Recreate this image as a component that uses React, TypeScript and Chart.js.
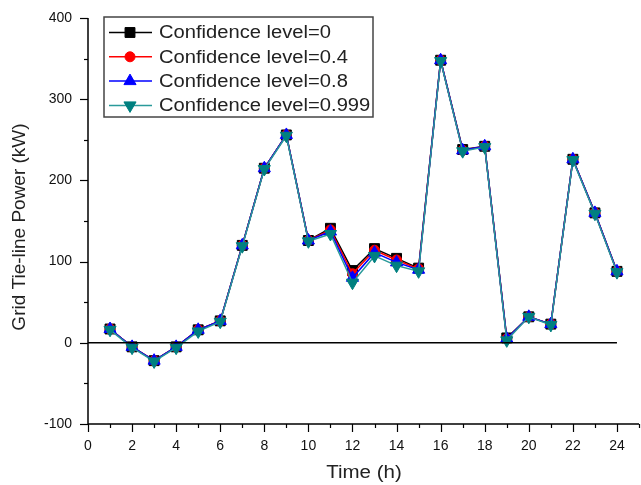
import React, { useEffect, useRef } from "react";
import { Chart, registerables } from "chart.js";

Chart.register(...registerables);

const hours = [1, 2, 3, 4, 5, 6, 7, 8, 9, 10, 11, 12, 13, 14, 15, 16, 17, 18, 19, 20, 21, 22, 23, 24];
const level0 = [17, -5, -22, -5, 16, 27, 120, 215, 256, 126, 141, 89, 116, 104, 92, 348, 238, 242, 6, 32, 23, 226, 160, 88];
const level04 = [17, -5, -22, -5, 16, 27, 120, 215, 256, 126, 139, 85, 114, 102, 91, 348, 237, 242, 5, 32, 23, 226, 160, 88];
const level08 = [17, -5, -22, -5, 16, 27, 120, 215, 256, 126, 137, 80, 111, 99, 90, 348, 237, 242, 5, 32, 23, 226, 160, 88];
const level0999 = [16, -6, -23, -6, 14, 26, 119, 214, 255, 125, 134, 74, 107, 95, 88, 347, 236, 241, 3, 32, 22, 225, 159, 87];
const seriesNames = ["Confidence level=0", "Confidence level=0.4", "Confidence level=0.8", "Confidence level=0.999"];
const xTickLabels = ["0", "2", "4", "6", "8", "10", "12", "14", "16", "18", "20", "22", "24"];
const yTickLabels = ["-100", "0", "100", "200", "300", "400"];
const xTitle = "Time (h)";
const yTitle = "Grid Tie-line Power (kW)";

const FONT = "'Liberation Sans', Arial, sans-serif";

export default function App() {
  const ref = useRef<HTMLCanvasElement>(null);
  useEffect(() => {
    document.body.style.margin = "0";
    const styles = [
      { color: "#000000", line: "#000000", point: "rect", radius: 7, rotation: 0 },
      { color: "#ff0000", line: "#ff0000", point: "circle", radius: 5, rotation: 0 },
      { color: "#0000ff", line: "#0000ff", point: "triangle", radius: 7, rotation: 0 },
      { color: "#008080", line: "#2a9a9a", point: "triangle", radius: 7, rotation: 180 },
    ];
    const seriesData = [level0, level04, level08, level0999];

    function drawMarker(ctx: any, style: string, r: number, rot: number, x: number, y: number) {
      ctx.beginPath();
      if (style === "rect") {
        const s = r * Math.SQRT1_2;
        ctx.rect(x - s, y - s, 2 * s, 2 * s);
      } else if (style === "circle") {
        ctx.arc(x, y, r, 0, Math.PI * 2);
      } else {
        let a = (rot * Math.PI) / 180;
        for (let k = 0; k < 3; k++) {
          const px = x + Math.sin(a) * r;
          const py = y - Math.cos(a) * r;
          if (k === 0) ctx.moveTo(px, py);
          else ctx.lineTo(px, py);
          a += (2 * Math.PI) / 3;
        }
        ctx.closePath();
      }
      ctx.fill();
      ctx.stroke();
    }

    function stretchText(ctx: any, text: string, x: number, y: number, sx: number) {
      ctx.save();
      ctx.translate(x, y);
      ctx.scale(sx, 1);
      ctx.fillText(text, 0, 0);
      ctx.restore();
    }

    const customPlugin = {
      id: "custom",
      afterDraw(chart: any) {
        const ctx = chart.ctx;
        const xs = chart.scales.x;
        const ys = chart.scales.y;
        const area = chart.chartArea;
        ctx.save();
        ctx.strokeStyle = "#000";
        ctx.lineWidth = 1.5;
        // zero line
        ctx.beginPath();
        ctx.moveTo(xs.getPixelForValue(0), ys.getPixelForValue(0));
        ctx.lineTo(xs.getPixelForValue(24), ys.getPixelForValue(0));
        ctx.stroke();
        // axis lines
        ctx.beginPath();
        ctx.moveTo(area.left, area.top);
        ctx.lineTo(area.left, area.bottom);
        ctx.lineTo(area.right, area.bottom);
        ctx.stroke();
        ctx.lineWidth = 1.2;
        // x ticks
        for (let v = 0; v <= 25; v++) {
          const px = Math.round(xs.getPixelForValue(v)) + 0.5;
          const len = v % 2 === 0 ? 8 : 4;
          ctx.beginPath();
          ctx.moveTo(px, area.bottom);
          ctx.lineTo(px, area.bottom + len);
          ctx.stroke();
        }
        // y ticks
        for (let v = -100; v <= 400; v += 50) {
          const py = Math.round(ys.getPixelForValue(v)) + 0.5;
          const len = v % 100 === 0 ? 8 : 4;
          ctx.beginPath();
          ctx.moveTo(area.left, py);
          ctx.lineTo(area.left - len, py);
          ctx.stroke();
        }
        // titles
        ctx.fillStyle = "#222";
        ctx.textAlign = "center";
        ctx.textBaseline = "middle";
        ctx.font = `18px ${FONT}`;
        stretchText(ctx, xTitle, 364, 473, 1.14);
        ctx.save();
        ctx.translate(20, 227);
        ctx.rotate(-Math.PI / 2);
        ctx.font = `19px ${FONT}`;
        ctx.fillText(yTitle, 0, 0);
        ctx.restore();
        // legend
        const lx = 104, ly = 17, lw = 269, lh = 100;
        ctx.fillStyle = "#fff";
        ctx.fillRect(lx, ly, lw, lh);
        ctx.strokeStyle = "#444";
        ctx.lineWidth = 1.5;
        ctx.strokeRect(lx, ly, lw, lh);
        ctx.font = `18px ${FONT}`;
        ctx.textBaseline = "middle";
        ctx.textAlign = "left";
        for (let i = 0; i < 4; i++) {
          const cy = 32.5 + i * 24.3;
          const s = styles[i];
          ctx.strokeStyle = s.line;
          ctx.lineWidth = 1.5;
          ctx.beginPath();
          ctx.moveTo(109, cy);
          ctx.lineTo(152, cy);
          ctx.stroke();
          ctx.fillStyle = s.color;
          ctx.strokeStyle = s.color;
          ctx.lineWidth = 1;
          drawMarker(ctx, s.point, s.radius, s.rotation, 130, cy);
          ctx.fillStyle = "#222";
          stretchText(ctx, seriesNames[i], 159, cy + 1, 1.12);
        }
        ctx.restore();
      },
    };

    const chart = new Chart(ref.current!, {
      type: "line",
      data: {
        datasets: seriesNames.map((name, i) => ({
          label: name,
          data: hours.map((h, j) => ({ x: h, y: seriesData[i][j] })),
          borderColor: styles[i].line,
          backgroundColor: styles[i].color,
          pointBorderColor: styles[i].color,
          borderWidth: 1.5,
          pointStyle: styles[i].point as any,
          pointRadius: styles[i].radius,
          pointRotation: styles[i].rotation,
          pointBorderWidth: 1,
          tension: 0,
          order: 3 - i,
        })),
      },
      options: {
        animation: false,
        responsive: false,
        layout: { autoPadding: false, padding: { top: 18, right: 2, left: 0, bottom: 0 } },
        plugins: { legend: { display: false }, tooltip: { enabled: false } },
        scales: {
          x: {
            type: "linear",
            min: 0,
            max: 25,
            grid: { display: false, drawTicks: false },
            border: { display: false },
            afterBuildTicks: (s: any) => {
              s.ticks = xTickLabels.map((v) => ({ value: Number(v) }));
            },
            ticks: {
              autoSkip: false,
              padding: 14,
              color: "#111",
              font: { family: FONT, size: 14 },
              maxRotation: 0,
              callback: (v: any) => String(v),
            },
            afterFit: (s: any) => {
              s.height = 61;
              s.paddingLeft = 0;
              s.paddingRight = 0;
            },
          },
          y: {
            min: -100,
            max: 400,
            grid: { display: false, drawTicks: false },
            border: { display: false },
            afterBuildTicks: (s: any) => {
              s.ticks = yTickLabels.map((v) => ({ value: Number(v) }));
            },
            ticks: {
              autoSkip: false,
              padding: 16,
              color: "#111",
              font: { family: FONT, size: 14 },
              callback: (v: any) => String(v),
            },
            afterFit: (s: any) => {
              s.width = 88;
              s.paddingTop = 0;
              s.paddingBottom = 0;
            },
          },
        },
      },
      plugins: [customPlugin],
    });
    return () => chart.destroy();
  }, []);
  return <canvas ref={ref} width={641} height={485} style={{ display: "block" }} />;
}
